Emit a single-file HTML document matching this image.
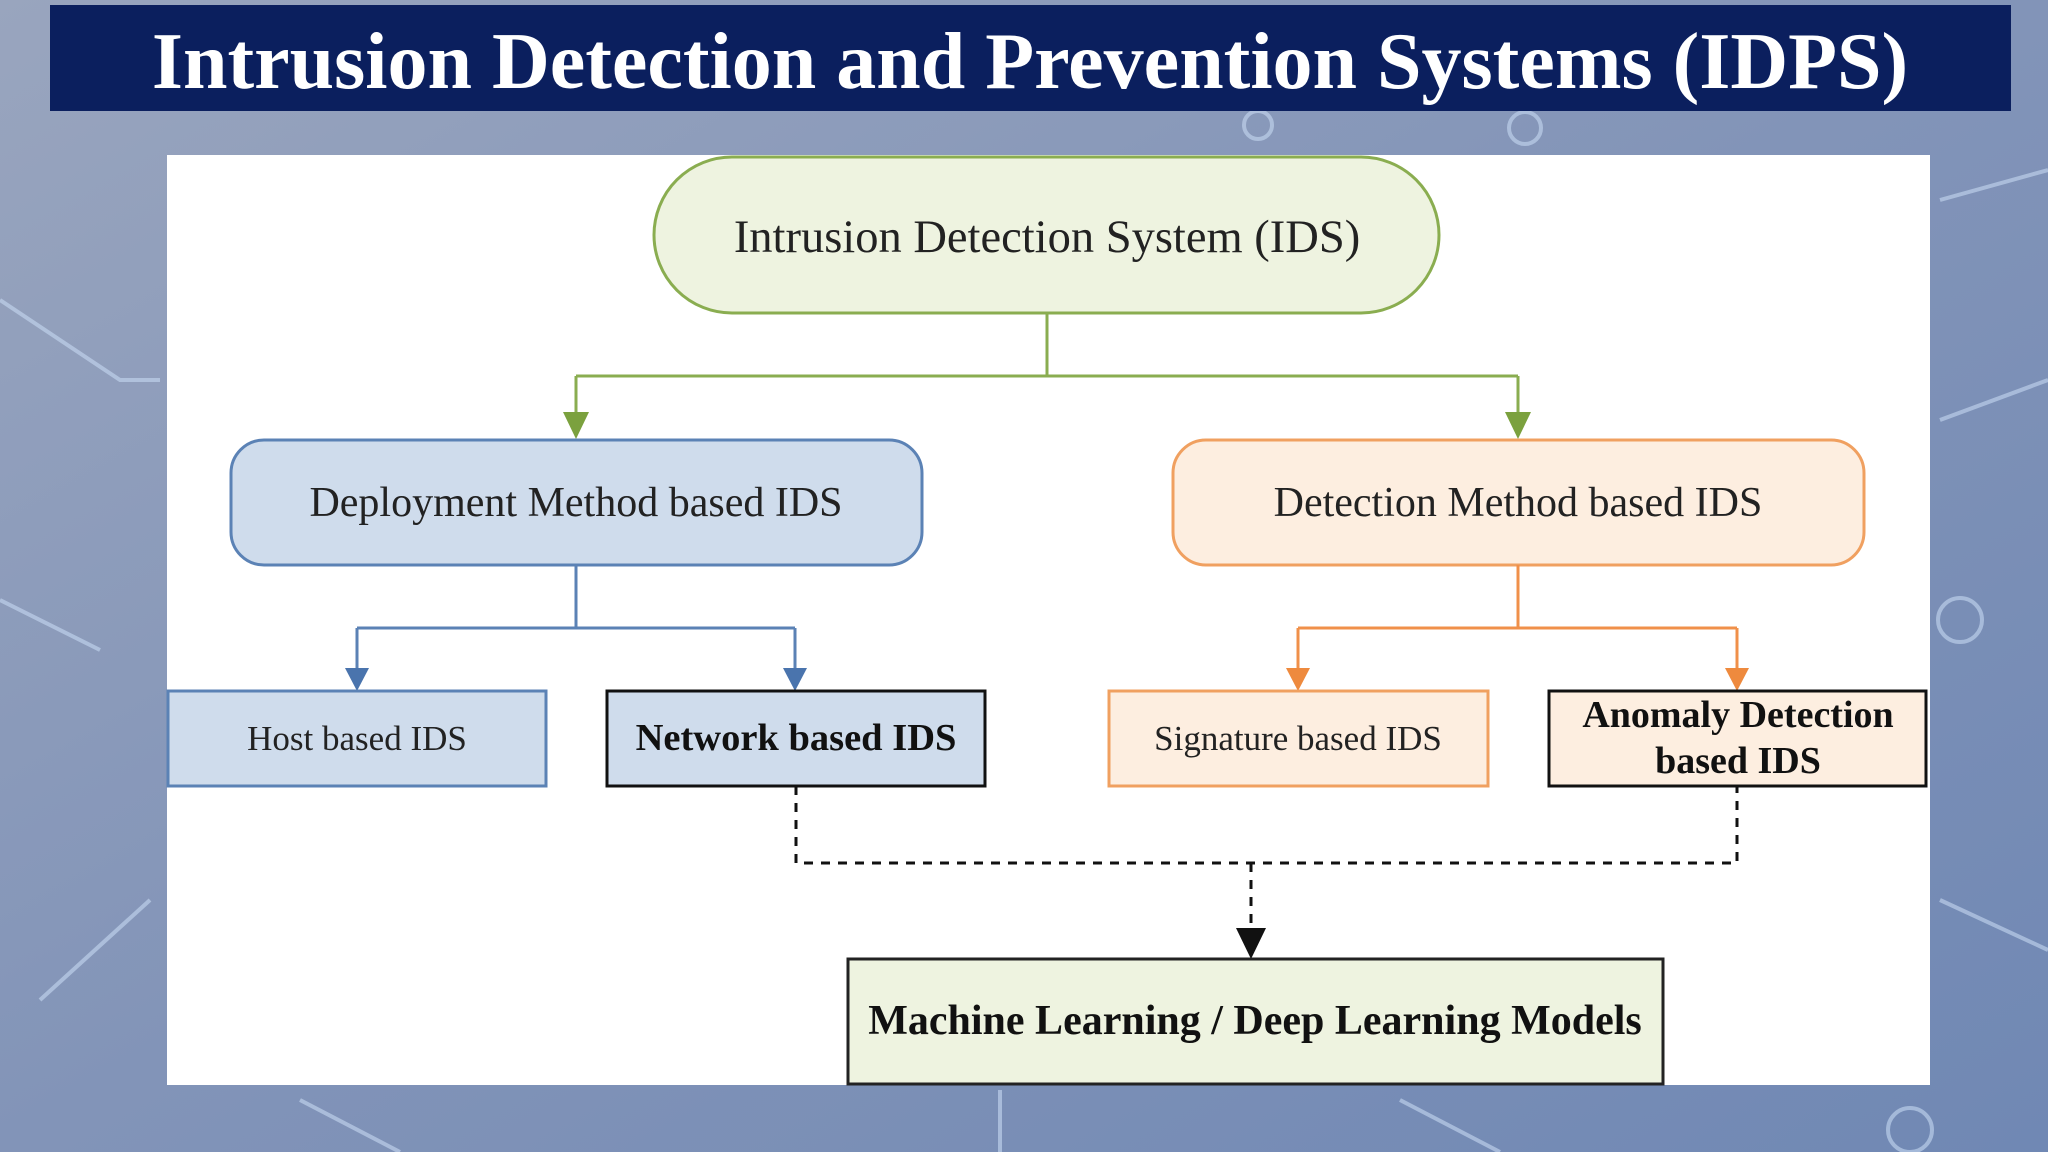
<!DOCTYPE html>
<html><head><meta charset="utf-8"><style>
html,body{margin:0;padding:0;width:2048px;height:1152px;overflow:hidden}
</style></head><body>
<svg width="2048" height="1152" viewBox="0 0 2048 1152" xmlns="http://www.w3.org/2000/svg">
<defs>
<linearGradient id="bg" x1="0" y1="0" x2="1" y2="1">
<stop offset="0" stop-color="#99a5be"/><stop offset="0.5" stop-color="#8294b8"/><stop offset="1" stop-color="#7088b4"/>
</linearGradient>
</defs>
<rect width="2048" height="1152" fill="url(#bg)"/>
<g stroke="#c6d8f2" stroke-width="4" fill="none" opacity="0.6">
<path d="M0 300 L120 380 L160 380"/><path d="M0 600 L100 650"/><path d="M40 1000 L150 900"/>
<path d="M1940 200 L2048 170"/><path d="M1940 420 L2048 380"/><path d="M1940 900 L2048 950"/>
<path d="M300 1100 L400 1152"/><path d="M1400 1100 L1500 1152"/><path d="M1000 1090 L1000 1152"/>
<circle cx="1960" cy="620" r="22"/><circle cx="1910" cy="1130" r="22"/><circle cx="1525" cy="128" r="16"/><circle cx="1258" cy="125" r="14"/>
</g>
<rect x="50" y="5" width="1961" height="106" fill="#0b1f5e"/>
<text x="1030" y="88" text-anchor="middle" font-family="Liberation Serif, serif" font-weight="bold" font-size="80" fill="#fff">Intrusion Detection and Prevention Systems (IDPS)</text>
<rect x="167" y="155" width="1763" height="930" fill="#fff"/>
<rect x="654" y="157" width="785" height="156" rx="78" fill="#eef3e0" stroke="#8aad50" stroke-width="3"/>
<text x="1047" y="252" text-anchor="middle" font-family="Liberation Serif, serif" font-size="46.5" fill="#222">Intrusion Detection System (IDS)</text>
<g stroke="#8aad50" stroke-width="3" fill="none"><path d="M1047 313 V376 M576 376 H1518 M576 376 V420 M1518 376 V420"/></g>
<polygon points="563,412 589,412 576,439" fill="#7ba13e"/><polygon points="1505,412 1531,412 1518,439" fill="#7ba13e"/>
<rect x="231" y="440" width="691" height="125" rx="33" fill="#cfdcec" stroke="#5b82b5" stroke-width="3"/>
<text x="576" y="516" text-anchor="middle" font-family="Liberation Serif, serif" font-size="42" fill="#222">Deployment Method based IDS</text>
<rect x="1173" y="440" width="691" height="125" rx="33" fill="#fdeee0" stroke="#f0a060" stroke-width="3"/>
<text x="1518" y="516" text-anchor="middle" font-family="Liberation Serif, serif" font-size="42" fill="#222">Detection Method based IDS</text>
<g stroke="#5b82b5" stroke-width="3" fill="none"><path d="M576 565 V628 M357 628 H795 M357 628 V672 M795 628 V672"/></g>
<polygon points="345,668 369,668 357,691" fill="#4a74ad"/><polygon points="783,668 807,668 795,691" fill="#4a74ad"/>
<g stroke="#f0904a" stroke-width="3" fill="none"><path d="M1518 565 V628 M1298 628 H1737 M1298 628 V672 M1737 628 V672"/></g>
<polygon points="1286,668 1310,668 1298,691" fill="#ee8a3e"/><polygon points="1725,668 1749,668 1737,691" fill="#ee8a3e"/>
<rect x="168" y="691" width="378" height="95" fill="#cfdcec" stroke="#5b82b5" stroke-width="3"/>
<text x="357" y="750" text-anchor="middle" font-family="Liberation Serif, serif" font-size="35" fill="#222">Host based IDS</text>
<rect x="607" y="691" width="378" height="95" fill="#cfdcec" stroke="#111" stroke-width="3"/>
<text x="796" y="750" text-anchor="middle" font-family="Liberation Serif, serif" font-weight="bold" font-size="38.5" fill="#111">Network based IDS</text>
<rect x="1109" y="691" width="379" height="95" fill="#fdeee0" stroke="#f0a060" stroke-width="3"/>
<text x="1298" y="750" text-anchor="middle" font-family="Liberation Serif, serif" font-size="35" fill="#222">Signature based IDS</text>
<rect x="1549" y="691" width="377" height="95" fill="#fdeee0" stroke="#111" stroke-width="3"/>
<text x="1738" y="727" text-anchor="middle" font-family="Liberation Serif, serif" font-weight="bold" font-size="38" fill="#111">Anomaly Detection</text>
<text x="1738" y="773" text-anchor="middle" font-family="Liberation Serif, serif" font-weight="bold" font-size="38" fill="#111">based IDS</text>
<g stroke="#111" stroke-width="3" fill="none" stroke-dasharray="9,8"><path d="M796 786 V863 H1737 V786 M1251 863 V932"/></g>
<polygon points="1236,928 1266,928 1251,959" fill="#111"/>
<rect x="848" y="959" width="815" height="125" fill="#eef3e0" stroke="#222" stroke-width="3"/>
<text x="1255" y="1034" text-anchor="middle" font-family="Liberation Serif, serif" font-weight="bold" font-size="42" fill="#111">Machine Learning / Deep Learning Models</text>
</svg>
</body></html>
